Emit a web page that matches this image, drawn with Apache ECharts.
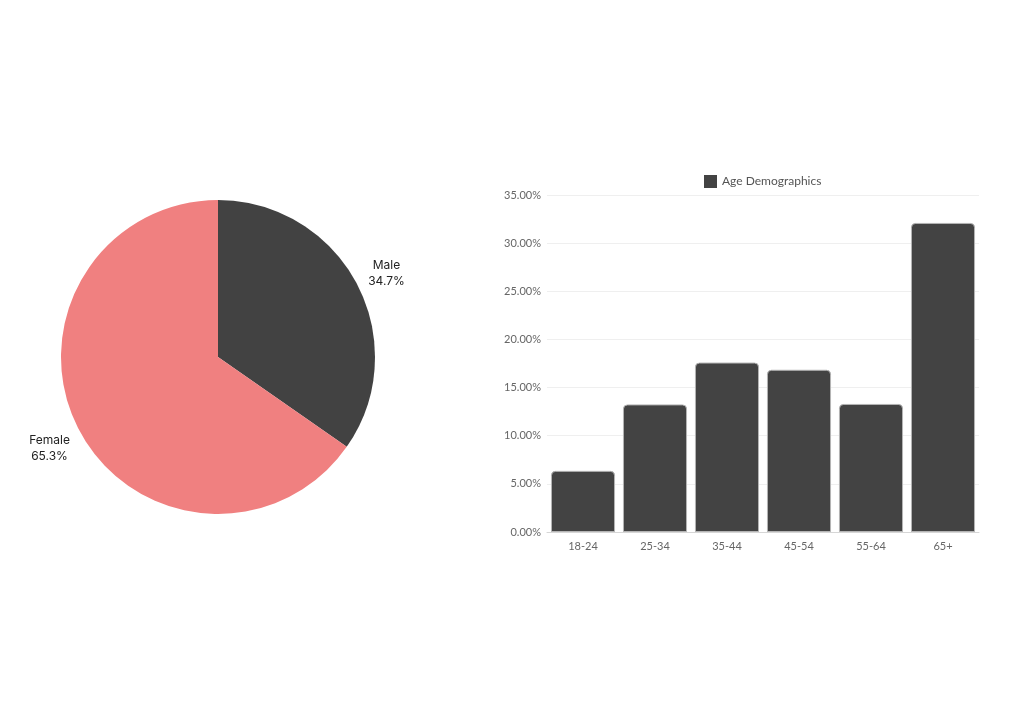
<!DOCTYPE html>
<html>
<head>
<meta charset="utf-8">
<script src="https://cdn.jsdelivr.net/npm/echarts@6/dist/echarts.min.js"></script>
<style>
  html, body { margin: 0; padding: 0; background: #fff; }
  #chart { width: 1024px; height: 715px; }
</style>
</head>
<body>
<div id="chart"></div>
<script>
// gender split (pie)
const genderLabels = ['Male', 'Female']
const genderValues = [34.7, 65.3]
const genderColors = ['#424242', '#f08080']

// age demographics (bar)
const ageGroups = ['18-24', '25-34', '35-44', '45-54', '55-64', '65+']
const agePercents = [6.35, 13.25, 17.6, 16.85, 13.3, 32.1]
const yTicks = [0, 5, 10, 15, 20, 25, 30, 35]

const chart = echarts.init(document.getElementById('chart'))

chart.setOption({
  animation: false,
  legend: {
    data: ['Age Demographics'],
    icon: 'rect',
    top: 170,
    left: 699,
    itemWidth: 13,
    itemHeight: 13,
    itemGap: 6,
    itemStyle: { borderWidth: 0 },
    textStyle: { color: '#555', fontSize: 12, fontFamily: 'Lato' }
  },
  grid: {
    left: 547,
    right: 45,
    top: 195,
    bottom: 183
  },
  xAxis: {
    type: 'category',
    data: ageGroups,
    axisTick: { show: false },
    axisLine: { lineStyle: { color: '#d6d6d6' } },
    axisLabel: { color: '#666', fontSize: 11, fontFamily: 'Lato', margin: 9 }
  },
  yAxis: {
    type: 'value',
    min: yTicks[0],
    max: yTicks[yTicks.length - 1],
    interval: 5,
    axisLine: { show: false },
    axisTick: { show: false },
    splitLine: { lineStyle: { color: '#efefef' } },
    axisLabel: {
      color: '#666',
      fontSize: 11,
      fontFamily: 'Lato',
      margin: 6,
      formatter: (v) => v.toFixed(2) + '%'
    }
  },
  series: [
    {
      type: 'pie',
      center: [218, 357],
      radius: 157,
      startAngle: 90,
      clockwise: true,
      data: genderLabels.map((name, i) => ({
        name,
        value: genderValues[i],
        itemStyle: { color: genderColors[i] }
      })),
      label: {
        show: true,
        position: 'outside',
        formatter: (p) => p.name + '\n' + p.value.toFixed(1) + '%',
        color: '#222',
        fontSize: 12,
        lineHeight: 16,
        fontFamily: 'Inter',
        overflow: 'none',
        distanceToLabelLine: 0
      },
      labelLine: { show: false, length: 33, length2: 0 },
      labelLayout: () => ({ align: 'center', dy: 4 }),
      emphasis: { disabled: true }
    },
    {
      type: 'bar',
      name: 'Age Demographics',
      data: agePercents,
      barCategoryGap: '11%',
      itemStyle: {
        color: '#434343',
        borderColor: '#b5b5b5',
        borderWidth: 1,
        borderRadius: [4, 4, 0, 0]
      }
    }
  ]
})
</script>
</body>
</html>
